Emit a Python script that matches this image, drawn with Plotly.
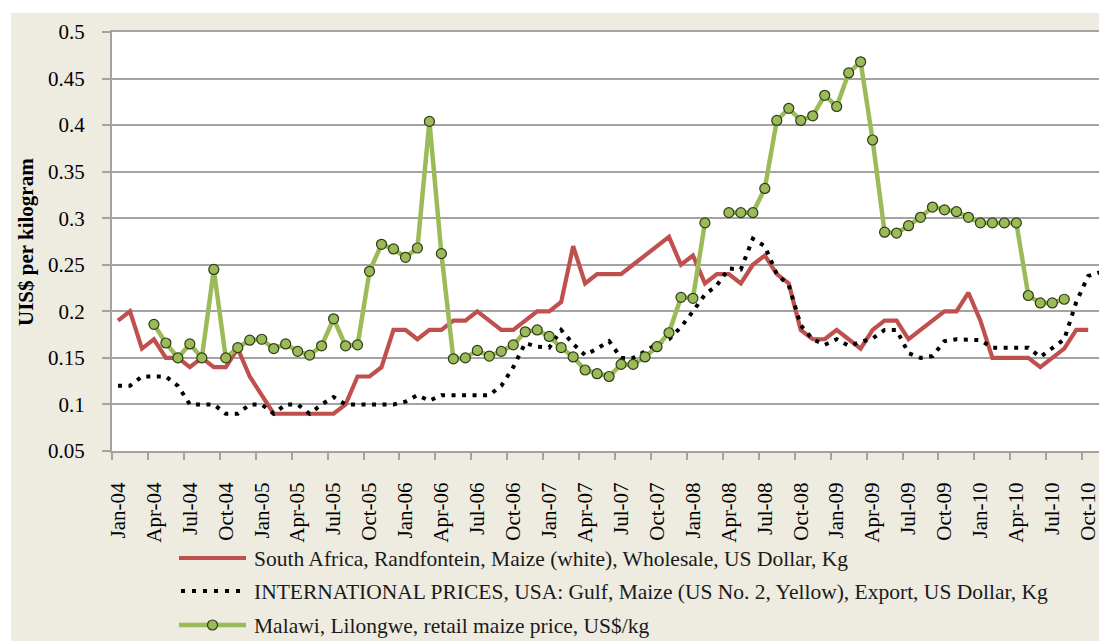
import plotly.graph_objects as go

# ---------------- data ----------------
months = [
    "Jan-04", "Feb-04", "Mar-04", "Apr-04", "May-04", "Jun-04", "Jul-04", "Aug-04", "Sep-04", "Oct-04", "Nov-04", "Dec-04",
    "Jan-05", "Feb-05", "Mar-05", "Apr-05", "May-05", "Jun-05", "Jul-05", "Aug-05", "Sep-05", "Oct-05", "Nov-05", "Dec-05",
    "Jan-06", "Feb-06", "Mar-06", "Apr-06", "May-06", "Jun-06", "Jul-06", "Aug-06", "Sep-06", "Oct-06", "Nov-06", "Dec-06",
    "Jan-07", "Feb-07", "Mar-07", "Apr-07", "May-07", "Jun-07", "Jul-07", "Aug-07", "Sep-07", "Oct-07", "Nov-07", "Dec-07",
    "Jan-08", "Feb-08", "Mar-08", "Apr-08", "May-08", "Jun-08", "Jul-08", "Aug-08", "Sep-08", "Oct-08", "Nov-08", "Dec-08",
    "Jan-09", "Feb-09", "Mar-09", "Apr-09", "May-09", "Jun-09", "Jul-09", "Aug-09", "Sep-09", "Oct-09", "Nov-09", "Dec-09",
    "Jan-10", "Feb-10", "Mar-10", "Apr-10", "May-10", "Jun-10", "Jul-10", "Aug-10", "Sep-10", "Oct-10", "Nov-10",
]

tick_labels = [
    "Jan-04", "Apr-04", "Jul-04", "Oct-04", "Jan-05", "Apr-05", "Jul-05", "Oct-05",
    "Jan-06", "Apr-06", "Jul-06", "Oct-06", "Jan-07", "Apr-07", "Jul-07", "Oct-07",
    "Jan-08", "Apr-08", "Jul-08", "Oct-08", "Jan-09", "Apr-09", "Jul-09", "Oct-09",
    "Jan-10", "Apr-10", "Jul-10", "Oct-10",
]

y_ticks = [0.05, 0.1, 0.15, 0.2, 0.25, 0.3, 0.35, 0.4, 0.45, 0.5]
y_tick_text = ["0.05", "0.1", "0.15", "0.2", "0.25", "0.3", "0.35", "0.4", "0.45", "0.5"]

# South Africa, Randfontein, Maize (white), Wholesale (Jan-04 .. Oct-10)
south_africa = [
    0.19, 0.20, 0.16, 0.17, 0.15, 0.15, 0.14, 0.15, 0.14, 0.14, 0.16, 0.13,
    0.11, 0.09, 0.09, 0.09, 0.09, 0.09, 0.09, 0.10, 0.13, 0.13, 0.14, 0.18,
    0.18, 0.17, 0.18, 0.18, 0.19, 0.19, 0.20, 0.19, 0.18, 0.18, 0.19, 0.20,
    0.20, 0.21, 0.27, 0.23, 0.24, 0.24, 0.24, 0.25, 0.26, 0.27, 0.28, 0.25,
    0.26, 0.23, 0.24, 0.24, 0.23, 0.25, 0.26, 0.24, 0.23, 0.18, 0.17, 0.17,
    0.18, 0.17, 0.16, 0.18, 0.19, 0.19, 0.17, 0.18, 0.19, 0.20, 0.20, 0.22,
    0.19, 0.15, 0.15, 0.15, 0.15, 0.14, 0.15, 0.16, 0.18, 0.18,
]

# International prices, USA Gulf, Maize (US No. 2, Yellow), Export (Jan-04 .. Nov-10)
usa_gulf = [
    0.12, 0.12, 0.13, 0.13, 0.13, 0.12, 0.10, 0.10, 0.10, 0.09, 0.09, 0.10,
    0.10, 0.09, 0.10, 0.10, 0.09, 0.10, 0.108, 0.10, 0.10, 0.10, 0.10, 0.10,
    0.103, 0.11, 0.104, 0.11, 0.11, 0.11, 0.11, 0.11, 0.12, 0.14, 0.166, 0.162,
    0.161, 0.18, 0.165, 0.153, 0.16, 0.168, 0.15, 0.15, 0.157, 0.165, 0.17, 0.183,
    0.20, 0.218, 0.228, 0.246, 0.245, 0.278, 0.27, 0.24, 0.228, 0.185, 0.17, 0.164,
    0.17, 0.163, 0.167, 0.171, 0.18, 0.18, 0.155, 0.15, 0.152, 0.168, 0.17, 0.17,
    0.169, 0.161, 0.161, 0.161, 0.161, 0.151, 0.16, 0.17, 0.21, 0.238, 0.242,
]

# Malawi, Lilongwe, retail maize price (Jan-04 .. Aug-10, gaps = None)
malawi = [
    None, None, None, 0.186, 0.166, 0.150, 0.165, 0.150, 0.245, 0.150, 0.161, 0.169,
    0.170, 0.160, 0.165, 0.157, 0.153, 0.163, 0.192, 0.163, 0.164, 0.243, 0.272, 0.267,
    0.258, 0.268, 0.404, 0.262, 0.149, 0.150, 0.158, 0.152, 0.157, 0.164, 0.178, 0.180,
    0.173, 0.161, 0.151, 0.137, 0.133, 0.130, 0.143, 0.143, 0.151, 0.162, 0.177, 0.215,
    0.214, 0.295, None, 0.306, 0.306, 0.306, 0.332, 0.405, 0.418, 0.405, 0.410, 0.432,
    0.420, 0.456, 0.468, 0.384, 0.285, 0.284, 0.292, 0.301, 0.312, 0.309, 0.307, 0.301,
    0.295, 0.295, 0.295, 0.295, 0.217, 0.209, 0.209, 0.213,
]

names = [
    "South Africa, Randfontein, Maize (white), Wholesale, US Dollar, Kg",
    "INTERNATIONAL PRICES, USA: Gulf, Maize (US No. 2, Yellow), Export, US Dollar, Kg",
    "Malawi, Lilongwe, retail maize price, US$/kg",
]

# ---------------- styling ----------------
RED = "#C0504D"
GREEN = "#9BBB59"
GREEN_EDGE = "#2F3A17"
BEIGE = "#EEEBE0"
GRID = "#A3A3A3"
SERIF = "Liberation Serif, DejaVu Serif, serif"

W, H = 1099, 641
L, R, T, B = 112, 0, 32, 190
PW, PH = W - L - R, H - T - B


def px_x(px):
    return (px - L) / PW


def px_y(py):
    return (H - B - py) / PH


def idx(series):
    return [months.index(m) for m in months[: len(series)]]


fig = go.Figure()
fig.add_trace(go.Scatter(
    x=idx(south_africa), y=south_africa, name=names[0], mode="lines",
    line=dict(color=RED, width=4.2), showlegend=False,
))
fig.add_trace(go.Scatter(
    x=idx(usa_gulf), y=usa_gulf, name=names[1], mode="lines",
    line=dict(color="black", width=4, dash="4px,6.5px"), showlegend=False,
))
fig.add_trace(go.Scatter(
    x=idx(malawi), y=malawi, name=names[2], mode="lines+markers", connectgaps=False,
    line=dict(color=GREEN, width=4.5),
    marker=dict(size=10, color=GREEN, line=dict(color=GREEN_EDGE, width=1.2)),
    showlegend=False,
))

tick_pos = [months.index(t) for t in tick_labels]

fig.update_xaxes(
    range=[-0.5, 81.9], showgrid=False, zeroline=False,
    showline=True, linecolor=GRID, linewidth=2, mirror=True,
    tickmode="array", tickvals=tick_pos, ticktext=tick_labels,
    ticks="", tickangle=-90, ticklabelstandoff=21, ticklabeloverflow="allow",
    tickfont=dict(family=SERIF, size=21, color="black"),
    minor=dict(tickmode="linear", tick0=-0.5, dtick=3, ticks="outside",
               ticklen=7, tickcolor=GRID, tickwidth=1.5, showgrid=False),
)
fig.update_yaxes(
    range=[0.05, 0.5], tickmode="array", tickvals=y_ticks, ticktext=y_tick_text,
    showgrid=True, gridcolor=GRID, gridwidth=1.5, zeroline=False,
    showline=True, linecolor=GRID, linewidth=2,
    ticks="outside", ticklen=8, tickcolor=GRID, tickwidth=1.5, ticklabelstandoff=13,
    tickfont=dict(family=SERIF, size=21, color="black"),
)

shapes = [
    # white page edges around the beige chart area
    dict(type="rect", xref="paper", yref="paper", x0=px_x(-2), x1=px_x(11), y0=px_y(H + 2), y1=px_y(-2),
         fillcolor="white", line=dict(width=0), layer="above"),
    dict(type="rect", xref="paper", yref="paper", x0=px_x(-2), x1=px_x(W + 2), y0=px_y(13), y1=px_y(-2),
         fillcolor="white", line=dict(width=0), layer="above"),
]

# legend (drawn manually to match the long legend keys)
leg_rows = [558, 591, 625]
sym_x0, sym_x1, text_x = 179, 246, 252
shapes.append(dict(type="line", xref="paper", yref="paper", x0=px_x(sym_x0), x1=px_x(sym_x1),
                   y0=px_y(leg_rows[0]), y1=px_y(leg_rows[0]), line=dict(color=RED, width=4.2)))
shapes.append(dict(type="line", xref="paper", yref="paper", x0=px_x(181), x1=px_x(240),
                   y0=px_y(leg_rows[1]), y1=px_y(leg_rows[1]),
                   line=dict(color="black", width=4, dash="4px,7px")))
shapes.append(dict(type="line", xref="paper", yref="paper", x0=px_x(sym_x0), x1=px_x(sym_x1),
                   y0=px_y(leg_rows[2]), y1=px_y(leg_rows[2]), line=dict(color=GREEN, width=4.5)))
shapes.append(dict(type="circle", xref="paper", yref="paper", xsizemode="pixel", ysizemode="pixel",
                   xanchor=px_x((sym_x0 + sym_x1) / 2), yanchor=px_y(leg_rows[2]),
                   x0=-5, x1=5, y0=-5, y1=5, fillcolor=GREEN, line=dict(color=GREEN_EDGE, width=1.2)))

annotations = [
    dict(text="<b>UIS$ per kilogram</b>", xref="paper", yref="paper", x=px_x(26), y=px_y(242),
         textangle=-90, showarrow=False, xanchor="center", yanchor="middle",
         font=dict(family=SERIF, size=21, color="black")),
]
for name, row in zip(names, leg_rows):
    annotations.append(dict(text=name, xref="paper", yref="paper", x=px_x(text_x), y=px_y(row + 1),
                            xanchor="left", yanchor="middle", showarrow=False,
                            font=dict(family=SERIF, size=21.5, color="#1A1A1A")))

fig.update_layout(
    width=W, height=H,
    margin=dict(l=L, r=R, t=T, b=B, pad=0),
    paper_bgcolor=BEIGE, plot_bgcolor="white",
    shapes=shapes, annotations=annotations,
    showlegend=False,
)

fig.write_html(
    "out.html",
    config={"displayModeBar": False},
    post_script="document.documentElement.style.margin='0';document.body.style.margin='0';"
                "document.body.style.overflow='hidden';",
)
